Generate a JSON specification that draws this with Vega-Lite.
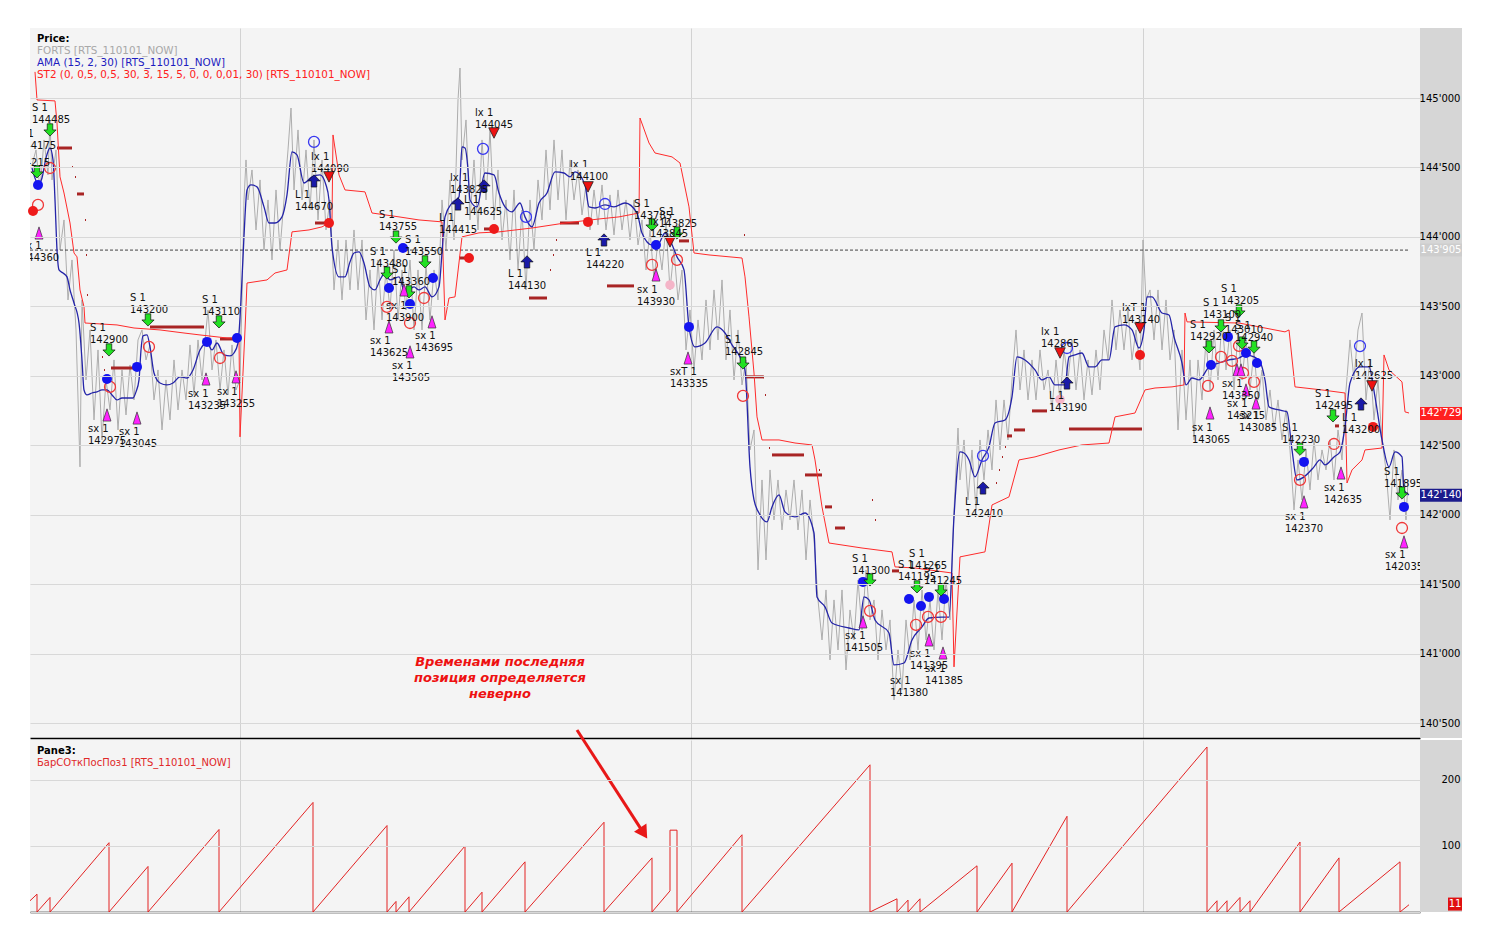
{
"$schema":"https://vega.github.io/schema/vega-lite/v6.json",
"background":"#ffffff",
"padding":{"left":28,"top":28,"right":0,"bottom":0},
"spacing":2,
"bounds":"flush",
"config":{"view":{"fill":"#f4f4f4","stroke":null},"font":"DejaVu Sans","text":{"font":"DejaVu Sans"}},
"datasets":{
"price":[{"b":2,"p":144518},{"b":6,"p":144626},{"b":10,"p":144338},{"b":14,"p":144698},{"b":18,"p":144446},{"b":20,"p":144842},{"b":22,"p":144410},{"b":26,"p":144626},{"b":30,"p":143906},{"b":34,"p":144122},{"b":38,"p":143546},{"b":42,"p":143834},{"b":46,"p":143330},{"b":50,"p":142344},{"b":52,"p":143546},{"b":56,"p":142970},{"b":60,"p":143330},{"b":64,"p":142682},{"b":68,"p":143186},{"b":72,"p":142538},{"b":76,"p":142970},{"b":80,"p":142754},{"b":84,"p":143114},{"b":88,"p":142610},{"b":92,"p":143042},{"b":96,"p":142718},{"b":100,"p":143078},{"b":104,"p":142826},{"b":108,"p":143258},{"b":112,"p":143330},{"b":116,"p":143114},{"b":120,"p":143222},{"b":124,"p":142826},{"b":128,"p":143042},{"b":132,"p":142610},{"b":136,"p":142970},{"b":140,"p":142682},{"b":144,"p":143114},{"b":148,"p":142754},{"b":152,"p":143042},{"b":156,"p":142826},{"b":160,"p":143222},{"b":164,"p":142862},{"b":168,"p":143258},{"b":172,"p":142970},{"b":176,"p":143330},{"b":178,"p":143474},{"b":182,"p":143042},{"b":186,"p":143258},{"b":190,"p":142898},{"b":194,"p":143186},{"b":198,"p":142862},{"b":202,"p":143222},{"b":206,"p":142898},{"b":210,"p":142970},{"b":212,"p":143546},{"b":214,"p":144266},{"b":216,"p":144554},{"b":218,"p":144266},{"b":222,"p":144482},{"b":226,"p":144050},{"b":230,"p":144410},{"b":234,"p":143906},{"b":238,"p":144266},{"b":242,"p":143834},{"b":246,"p":144338},{"b":250,"p":143906},{"b":254,"p":144266},{"b":258,"p":144626},{"b":261,"p":144928},{"b":264,"p":144338},{"b":268,"p":144770},{"b":272,"p":144266},{"b":276,"p":144626},{"b":280,"p":144194},{"b":284,"p":144698},{"b":288,"p":144122},{"b":292,"p":144554},{"b":296,"p":144050},{"b":300,"p":144266},{"b":304,"p":143618},{"b":308,"p":143978},{"b":312,"p":143546},{"b":316,"p":143978},{"b":320,"p":143618},{"b":324,"p":144050},{"b":328,"p":143618},{"b":332,"p":143978},{"b":336,"p":143402},{"b":340,"p":143762},{"b":344,"p":143330},{"b":348,"p":143834},{"b":352,"p":143402},{"b":356,"p":143762},{"b":360,"p":143474},{"b":364,"p":143906},{"b":368,"p":143402},{"b":372,"p":143762},{"b":376,"p":143474},{"b":380,"p":143834},{"b":384,"p":143330},{"b":388,"p":143762},{"b":392,"p":143330},{"b":396,"p":143798},{"b":400,"p":143402},{"b":404,"p":143762},{"b":408,"p":143546},{"b":412,"p":144266},{"b":416,"p":143906},{"b":420,"p":144410},{"b":424,"p":143978},{"b":428,"p":144986},{"b":430,"p":145216},{"b":432,"p":144554},{"b":436,"p":144842},{"b":440,"p":144122},{"b":444,"p":144554},{"b":448,"p":144050},{"b":452,"p":144698},{"b":456,"p":144266},{"b":460,"p":144770},{"b":464,"p":144122},{"b":468,"p":144482},{"b":472,"p":143978},{"b":476,"p":144266},{"b":480,"p":143834},{"b":484,"p":144338},{"b":488,"p":143762},{"b":492,"p":144194},{"b":496,"p":143618},{"b":500,"p":144266},{"b":504,"p":143906},{"b":508,"p":144410},{"b":512,"p":144122},{"b":516,"p":144626},{"b":520,"p":144194},{"b":524,"p":144698},{"b":528,"p":144266},{"b":532,"p":144626},{"b":536,"p":144122},{"b":540,"p":144554},{"b":544,"p":144266},{"b":548,"p":144482},{"b":552,"p":144158},{"b":556,"p":144374},{"b":560,"p":144050},{"b":564,"p":144338},{"b":568,"p":144086},{"b":572,"p":144374},{"b":576,"p":144050},{"b":580,"p":144302},{"b":584,"p":144014},{"b":588,"p":144338},{"b":592,"p":144050},{"b":596,"p":144266},{"b":600,"p":143978},{"b":604,"p":144266},{"b":608,"p":143942},{"b":612,"p":144122},{"b":616,"p":143762},{"b":620,"p":144050},{"b":624,"p":143690},{"b":628,"p":143978},{"b":632,"p":143762},{"b":636,"p":144086},{"b":640,"p":143618},{"b":644,"p":143906},{"b":648,"p":143546},{"b":652,"p":143762},{"b":656,"p":143186},{"b":660,"p":143474},{"b":664,"p":143042},{"b":668,"p":143402},{"b":672,"p":143114},{"b":676,"p":143546},{"b":680,"p":143186},{"b":684,"p":143618},{"b":688,"p":143258},{"b":692,"p":143690},{"b":696,"p":143114},{"b":700,"p":143474},{"b":704,"p":142970},{"b":708,"p":143330},{"b":712,"p":142934},{"b":716,"p":143114},{"b":720,"p":142466},{"b":724,"p":142610},{"b":728,"p":141602},{"b":732,"p":142250},{"b":736,"p":141674},{"b":740,"p":142322},{"b":744,"p":141962},{"b":748,"p":142250},{"b":752,"p":141890},{"b":756,"p":142178},{"b":760,"p":141962},{"b":764,"p":142250},{"b":768,"p":141890},{"b":772,"p":142178},{"b":776,"p":141674},{"b":780,"p":142106},{"b":784,"p":141818},{"b":788,"p":141386},{"b":792,"p":141098},{"b":796,"p":141458},{"b":800,"p":140954},{"b":804,"p":141386},{"b":808,"p":141026},{"b":812,"p":141458},{"b":816,"p":140882},{"b":820,"p":141314},{"b":824,"p":141098},{"b":828,"p":141530},{"b":832,"p":141170},{"b":836,"p":141602},{"b":840,"p":141242},{"b":844,"p":141386},{"b":848,"p":140954},{"b":852,"p":141314},{"b":856,"p":141026},{"b":860,"p":141242},{"b":864,"p":140666},{"b":868,"p":141026},{"b":872,"p":140738},{"b":876,"p":141242},{"b":880,"p":140954},{"b":884,"p":141386},{"b":888,"p":141026},{"b":892,"p":141458},{"b":896,"p":141098},{"b":900,"p":141386},{"b":904,"p":141026},{"b":908,"p":141458},{"b":912,"p":141098},{"b":916,"p":141530},{"b":920,"p":141242},{"b":924,"p":142034},{"b":928,"p":142624},{"b":930,"p":142250},{"b":934,"p":142538},{"b":938,"p":142106},{"b":942,"p":142466},{"b":946,"p":142034},{"b":950,"p":142538},{"b":954,"p":142250},{"b":958,"p":142610},{"b":962,"p":142322},{"b":966,"p":142826},{"b":970,"p":142466},{"b":974,"p":142826},{"b":978,"p":142538},{"b":982,"p":142970},{"b":986,"p":143330},{"b":990,"p":142898},{"b":994,"p":143186},{"b":998,"p":142826},{"b":1002,"p":143114},{"b":1006,"p":142826},{"b":1010,"p":143186},{"b":1014,"p":142898},{"b":1018,"p":143042},{"b":1022,"p":142754},{"b":1026,"p":143114},{"b":1030,"p":142826},{"b":1034,"p":143186},{"b":1038,"p":142970},{"b":1042,"p":143258},{"b":1046,"p":142898},{"b":1050,"p":143186},{"b":1054,"p":142826},{"b":1058,"p":143114},{"b":1062,"p":142862},{"b":1066,"p":143186},{"b":1070,"p":142898},{"b":1074,"p":143330},{"b":1078,"p":143114},{"b":1082,"p":143546},{"b":1086,"p":143186},{"b":1090,"p":143474},{"b":1094,"p":143186},{"b":1098,"p":143474},{"b":1102,"p":143114},{"b":1106,"p":143330},{"b":1110,"p":143042},{"b":1113,"p":143978},{"b":1116,"p":143546},{"b":1120,"p":143618},{"b":1124,"p":143258},{"b":1128,"p":143618},{"b":1132,"p":143186},{"b":1136,"p":143546},{"b":1140,"p":143114},{"b":1144,"p":143330},{"b":1148,"p":142610},{"b":1152,"p":143186},{"b":1156,"p":142682},{"b":1160,"p":143114},{"b":1164,"p":142538},{"b":1168,"p":143114},{"b":1172,"p":142826},{"b":1176,"p":143258},{"b":1180,"p":142898},{"b":1184,"p":143330},{"b":1188,"p":142970},{"b":1192,"p":143402},{"b":1196,"p":143042},{"b":1200,"p":143330},{"b":1204,"p":142898},{"b":1208,"p":143330},{"b":1212,"p":142970},{"b":1216,"p":143258},{"b":1220,"p":142898},{"b":1224,"p":143186},{"b":1228,"p":142826},{"b":1232,"p":143042},{"b":1236,"p":142682},{"b":1240,"p":142898},{"b":1244,"p":142610},{"b":1248,"p":142826},{"b":1252,"p":142538},{"b":1256,"p":142754},{"b":1260,"p":142466},{"b":1264,"p":142034},{"b":1268,"p":142394},{"b":1272,"p":142106},{"b":1276,"p":142466},{"b":1280,"p":142178},{"b":1284,"p":142538},{"b":1288,"p":142250},{"b":1292,"p":142466},{"b":1296,"p":142322},{"b":1300,"p":142538},{"b":1304,"p":142250},{"b":1308,"p":142610},{"b":1312,"p":142394},{"b":1316,"p":142898},{"b":1320,"p":143258},{"b":1324,"p":142970},{"b":1328,"p":143330},{"b":1332,"p":143452},{"b":1336,"p":142826},{"b":1340,"p":143114},{"b":1344,"p":142682},{"b":1348,"p":142970},{"b":1352,"p":142538},{"b":1356,"p":142322},{"b":1360,"p":141962},{"b":1364,"p":142466},{"b":1368,"p":142106},{"b":1372,"p":142322},{"b":1376,"p":141962},{"b":1378,"p":142250}],
"ama":[{"b":2,"p":144496},{"b":5,"p":144424},{"b":8,"p":144374},{"b":12,"p":144424},{"b":16,"p":144568},{"b":20,"p":144640},{"b":23,"p":144554},{"b":25,"p":144266},{"b":27,"p":143906},{"b":29,"p":143762},{"b":33,"p":143740},{"b":37,"p":143712},{"b":40,"p":143618},{"b":44,"p":143524},{"b":49,"p":143380},{"b":52,"p":143114},{"b":54,"p":142898},{"b":57,"p":142862},{"b":62,"p":142876},{"b":67,"p":142884},{"b":72,"p":142898},{"b":77,"p":142898},{"b":82,"p":142862},{"b":87,"p":142826},{"b":92,"p":142840},{"b":97,"p":142840},{"b":103,"p":142840},{"b":106,"p":142884},{"b":109,"p":142970},{"b":111,"p":143186},{"b":113,"p":143287},{"b":117,"p":143294},{"b":120,"p":143208},{"b":124,"p":143020},{"b":130,"p":142948},{"b":137,"p":142934},{"b":143,"p":142948},{"b":150,"p":142992},{"b":157,"p":142984},{"b":163,"p":143042},{"b":170,"p":143186},{"b":177,"p":143236},{"b":182,"p":143186},{"b":187,"p":143236},{"b":194,"p":143150},{"b":200,"p":143143},{"b":204,"p":143164},{"b":208,"p":143236},{"b":211,"p":143546},{"b":214,"p":144007},{"b":217,"p":144338},{"b":221,"p":144374},{"b":227,"p":144360},{"b":234,"p":144216},{"b":239,"p":144100},{"b":245,"p":144100},{"b":252,"p":144144},{"b":257,"p":144302},{"b":262,"p":144612},{"b":267,"p":144590},{"b":274,"p":144388},{"b":282,"p":144432},{"b":290,"p":144446},{"b":296,"p":144374},{"b":299,"p":144266},{"b":302,"p":143928},{"b":309,"p":143712},{"b":315,"p":143712},{"b":320,"p":143820},{"b":324,"p":143884},{"b":329,"p":143892},{"b":334,"p":143812},{"b":340,"p":143640},{"b":345,"p":143618},{"b":350,"p":143690},{"b":355,"p":143740},{"b":360,"p":143690},{"b":369,"p":143712},{"b":375,"p":143596},{"b":384,"p":143640},{"b":389,"p":143618},{"b":395,"p":143640},{"b":402,"p":143568},{"b":409,"p":143640},{"b":412,"p":143884},{"b":415,"p":144144},{"b":422,"p":144244},{"b":429,"p":144288},{"b":432,"p":144648},{"b":435,"p":144640},{"b":438,"p":144482},{"b":440,"p":144266},{"b":447,"p":144216},{"b":455,"p":144460},{"b":464,"p":144446},{"b":469,"p":144316},{"b":475,"p":144216},{"b":482,"p":144180},{"b":490,"p":144244},{"b":495,"p":144144},{"b":502,"p":144072},{"b":509,"p":144244},{"b":517,"p":144316},{"b":525,"p":144468},{"b":534,"p":144460},{"b":540,"p":144432},{"b":545,"p":144468},{"b":555,"p":144374},{"b":559,"p":144216},{"b":565,"p":144208},{"b":575,"p":144230},{"b":584,"p":144216},{"b":595,"p":144244},{"b":607,"p":144172},{"b":612,"p":144028},{"b":622,"p":143942},{"b":629,"p":143956},{"b":635,"p":144028},{"b":640,"p":143978},{"b":647,"p":143856},{"b":654,"p":143762},{"b":659,"p":143352},{"b":665,"p":143208},{"b":675,"p":143236},{"b":687,"p":143352},{"b":695,"p":143308},{"b":702,"p":143222},{"b":710,"p":143136},{"b":715,"p":143042},{"b":720,"p":142344},{"b":724,"p":142106},{"b":729,"p":142012},{"b":737,"p":141948},{"b":742,"p":142056},{"b":749,"p":142142},{"b":755,"p":142020},{"b":765,"p":141984},{"b":775,"p":142012},{"b":784,"p":141868},{"b":787,"p":141408},{"b":795,"p":141336},{"b":802,"p":141220},{"b":819,"p":141184},{"b":829,"p":141170},{"b":834,"p":141408},{"b":839,"p":141386},{"b":845,"p":141242},{"b":859,"p":141148},{"b":864,"p":140918},{"b":874,"p":140932},{"b":882,"p":141098},{"b":892,"p":141192},{"b":899,"p":141256},{"b":912,"p":141263},{"b":919,"p":141263},{"b":924,"p":141984},{"b":930,"p":142452},{"b":934,"p":142444},{"b":939,"p":142394},{"b":945,"p":142272},{"b":952,"p":142394},{"b":959,"p":142488},{"b":965,"p":142660},{"b":975,"p":142682},{"b":982,"p":142848},{"b":987,"p":143136},{"b":995,"p":143114},{"b":1005,"p":143042},{"b":1012,"p":142970},{"b":1019,"p":142992},{"b":1025,"p":142934},{"b":1035,"p":142934},{"b":1039,"p":143136},{"b":1045,"p":143150},{"b":1052,"p":143164},{"b":1059,"p":143064},{"b":1065,"p":143064},{"b":1072,"p":143114},{"b":1079,"p":143114},{"b":1085,"p":143352},{"b":1094,"p":143366},{"b":1102,"p":143330},{"b":1109,"p":143200},{"b":1114,"p":143330},{"b":1117,"p":143568},{"b":1122,"p":143568},{"b":1132,"p":143452},{"b":1139,"p":143438},{"b":1144,"p":143280},{"b":1152,"p":143092},{"b":1156,"p":142934},{"b":1162,"p":142984},{"b":1169,"p":142970},{"b":1179,"p":143064},{"b":1189,"p":143092},{"b":1199,"p":143114},{"b":1209,"p":143128},{"b":1215,"p":143150},{"b":1224,"p":143136},{"b":1230,"p":143100},{"b":1235,"p":142970},{"b":1239,"p":142776},{"b":1249,"p":142754},{"b":1257,"p":142740},{"b":1262,"p":142466},{"b":1267,"p":142250},{"b":1274,"p":142272},{"b":1284,"p":142344},{"b":1290,"p":142394},{"b":1295,"p":142358},{"b":1304,"p":142416},{"b":1310,"p":142452},{"b":1315,"p":142632},{"b":1320,"p":142948},{"b":1330,"p":143064},{"b":1339,"p":143064},{"b":1345,"p":142848},{"b":1352,"p":142538},{"b":1359,"p":142344},{"b":1365,"p":142452},{"b":1372,"p":142416},{"b":1374,"p":142178},{"b":1379,"p":142142}],
"st2":[{"b":5,"p":145188},{"b":7,"p":144986},{"b":25,"p":144979},{"b":27,"p":144820},{"b":30,"p":144432},{"b":34,"p":144316},{"b":40,"p":144100},{"b":44,"p":143884},{"b":47,"p":143856},{"b":50,"p":143618},{"b":54,"p":143496},{"b":55,"p":143380},{"b":87,"p":143366},{"b":104,"p":143344},{"b":130,"p":143330},{"b":154,"p":143308},{"b":170,"p":143294},{"b":197,"p":143272},{"b":209,"p":143272},{"b":210,"p":142560},{"b":215,"p":143330},{"b":217,"p":143668},{"b":237,"p":143690},{"b":245,"p":143740},{"b":257,"p":143762},{"b":262,"p":144036},{"b":279,"p":144050},{"b":292,"p":144072},{"b":299,"p":144100},{"b":302,"p":144122},{"b":303,"p":144734},{"b":309,"p":144446},{"b":315,"p":144338},{"b":335,"p":144324},{"b":342,"p":144172},{"b":369,"p":144144},{"b":389,"p":144122},{"b":412,"p":144108},{"b":415,"p":143402},{"b":419,"p":143560},{"b":425,"p":143568},{"b":432,"p":144000},{"b":449,"p":144029},{"b":469,"p":144036},{"b":502,"p":144064},{"b":535,"p":144100},{"b":569,"p":144129},{"b":589,"p":144144},{"b":609,"p":144172},{"b":610,"p":144856},{"b":619,"p":144676},{"b":625,"p":144604},{"b":642,"p":144576},{"b":650,"p":144532},{"b":659,"p":144216},{"b":664,"p":143884},{"b":679,"p":143870},{"b":712,"p":143848},{"b":715,"p":143712},{"b":719,"p":143424},{"b":724,"p":143020},{"b":727,"p":142704},{"b":732,"p":142538},{"b":749,"p":142538},{"b":765,"p":142516},{"b":782,"p":142502},{"b":785,"p":142394},{"b":792,"p":142056},{"b":799,"p":141796},{"b":832,"p":141760},{"b":862,"p":141732},{"b":865,"p":141624},{"b":885,"p":141616},{"b":922,"p":141580},{"b":924,"p":140904},{"b":930,"p":141696},{"b":955,"p":141732},{"b":962,"p":142070},{"b":979,"p":142128},{"b":989,"p":142394},{"b":1005,"p":142416},{"b":1029,"p":142466},{"b":1052,"p":142502},{"b":1079,"p":142516},{"b":1085,"p":142704},{"b":1105,"p":142732},{"b":1115,"p":142898},{"b":1125,"p":142912},{"b":1142,"p":142920},{"b":1154,"p":142934},{"b":1155,"p":143452},{"b":1157,"p":143388},{"b":1209,"p":143380},{"b":1255,"p":143316},{"b":1259,"p":143330},{"b":1265,"p":142920},{"b":1292,"p":142898},{"b":1315,"p":142876},{"b":1317,"p":142228},{"b":1322,"p":142322},{"b":1332,"p":142394},{"b":1335,"p":142466},{"b":1352,"p":142480},{"b":1354,"p":143150},{"b":1359,"p":143042},{"b":1372,"p":142956},{"b":1375,"p":142740},{"b":1379,"p":142732}],
"stops":[{"b":27,"b2":42,"p":144640},{"b":47,"b2":54,"p":144309},{"b":81,"b2":104,"p":143056},{"b":120,"b2":174,"p":143352},{"b":190,"b2":205,"p":143265},{"b":285,"b2":295,"p":144100},{"b":429,"b2":435,"p":143848},{"b":454,"b2":464,"p":144057},{"b":499,"b2":517,"p":143560},{"b":530,"b2":549,"p":144100},{"b":577,"b2":604,"p":143647},{"b":649,"b2":659,"p":143971},{"b":715,"b2":734,"p":142992},{"b":742,"b2":774,"p":142430},{"b":775,"b2":792,"p":142286},{"b":795,"b2":802,"p":142056},{"b":805,"b2":815,"p":141904},{"b":862,"b2":869,"p":141595},{"b":977,"b2":982,"p":142567},{"b":984,"b2":995,"p":142610},{"b":1002,"b2":1017,"p":142747},{"b":1039,"b2":1112,"p":142617},{"b":1305,"b2":1309,"p":142639}],
"dots":[{"b":42,"b2":43,"p":144504},{"b":45,"b2":46,"p":144432},{"b":55,"b2":56,"p":144122},{"b":56,"b2":57,"p":143870},{"b":57,"b2":58,"p":143582},{"b":72,"b2":73,"p":143136},{"b":74,"b2":75,"p":143042},{"b":520,"b2":521,"p":143762},{"b":523,"b2":524,"p":143870},{"b":526,"b2":527,"p":143978},{"b":714,"b2":715,"p":144014},{"b":735,"b2":736,"p":142862},{"b":739,"b2":740,"p":142480},{"b":789,"b2":790,"p":142322},{"b":842,"b2":843,"p":142106},{"b":845,"b2":846,"p":141962},{"b":966,"b2":967,"p":142228},{"b":969,"b2":970,"p":142322},{"b":972,"b2":973,"p":142416},{"b":975,"b2":976,"p":142488}],
"marks":[
{"k":"S","b":20,"p":144770},{"k":"S","b":7,"p":144468},{"k":"S","b":79,"p":143186},{"k":"S","b":118,"p":143402},{"k":"S","b":189,"p":143388},{"k":"S","b":366,"p":143999},{"k":"S","b":395,"p":143820},{"k":"S","b":357,"p":143740},{"k":"S","b":379,"p":143604},{"k":"S","b":622,"p":144086},{"k":"S","b":647,"p":144028},{"k":"S","b":713,"p":143092},{"k":"S","b":840,"p":141530},{"k":"S","b":887,"p":141480},{"k":"S","b":911,"p":141458},{"k":"S","b":1179,"p":143208},{"k":"S","b":1191,"p":143359},{"k":"S","b":1209,"p":143467},{"k":"S","b":1212,"p":143236},{"k":"S","b":1224,"p":143206},{"k":"S","b":1270,"p":142471},{"k":"S","b":1303,"p":142711},{"k":"S","b":1372,"p":142156},
{"k":"L","b":284,"p":144403},{"k":"L","b":428,"p":144237},{"k":"L","b":454,"p":144367},{"k":"L","b":497,"p":143820},{"k":"L","b":574,"p":143978},{"k":"L","b":953,"p":142192},{"k":"L","b":1037,"p":142948},{"k":"L","b":1331,"p":142797},
{"k":"LX","b":299,"p":144432},{"k":"LX","b":464,"p":144748},{"k":"LX","b":558,"p":144360},{"k":"LX","b":640,"p":143964},{"k":"LX","b":1030,"p":143164},{"k":"LX","b":1110,"p":143344},{"k":"LX","b":1342,"p":142927},
{"k":"SX","b":9,"p":144028},{"k":"SX","b":77,"p":142718},{"k":"SX","b":107,"p":142696},{"k":"SX","b":176,"p":142977},{"k":"SX","b":206,"p":142992},{"k":"SX","b":359,"p":143352},{"k":"SX","b":380,"p":143172},{"k":"SX","b":402,"p":143388},{"k":"SX","b":374,"p":143618},{"k":"SX","b":626,"p":143726},{"k":"SX","b":658,"p":143128},{"k":"SX","b":833,"p":141228},{"k":"SX","b":899,"p":141098},{"k":"SX","b":913,"p":141004},{"k":"SX","b":1180,"p":142732},{"k":"SX","b":1207,"p":143042},{"k":"SX","b":1211,"p":143042},{"k":"SX","b":1216,"p":142898},{"k":"SX","b":1226,"p":142804},{"k":"SX","b":1274,"p":142092},{"k":"SX","b":1311,"p":142300},{"k":"SX","b":1374,"p":141804},
{"k":"BF","b":8,"p":144374},{"k":"BF","b":77,"p":142977},{"k":"BF","b":107,"p":143064},{"k":"BF","b":177,"p":143244},{"k":"BF","b":207,"p":143272},{"k":"BF","b":359,"p":143632},{"k":"BF","b":373,"p":143920},{"k":"BF","b":380,"p":143517},{"k":"BF","b":403,"p":143704},{"k":"BF","b":626,"p":143942},{"k":"BF","b":659,"p":143352},{"k":"BF","b":833,"p":141516},{"k":"BF","b":879,"p":141393},{"k":"BF","b":891,"p":141343},{"k":"BF","b":899,"p":141408},{"k":"BF","b":914,"p":141393},{"k":"BF","b":1181,"p":143078},{"k":"BF","b":1198,"p":143280},{"k":"BF","b":1216,"p":143164},{"k":"BF","b":1227,"p":143092},{"k":"BF","b":1274,"p":142380},{"k":"BF","b":1374,"p":142056},
{"k":"RH","b":20,"p":144496},{"k":"RH","b":8,"p":144230},{"k":"RH","b":80,"p":142920},{"k":"RH","b":119,"p":143208},{"k":"RH","b":190,"p":143128},{"k":"RH","b":357,"p":143496},{"k":"RH","b":380,"p":143380},{"k":"RH","b":394,"p":143560},{"k":"RH","b":622,"p":143798},{"k":"RH","b":647,"p":143834},{"k":"RH","b":713,"p":142855},{"k":"RH","b":840,"p":141307},{"k":"RH","b":886,"p":141206},{"k":"RH","b":898,"p":141264},{"k":"RH","b":911,"p":141264},{"k":"RH","b":1178,"p":142927},{"k":"RH","b":1191,"p":143136},{"k":"RH","b":1202,"p":143107},{"k":"RH","b":1209,"p":143215},{"k":"RH","b":1213,"p":143020},{"k":"RH","b":1224,"p":142956},{"k":"RH","b":1304,"p":142509},{"k":"RH","b":1270,"p":142250},{"k":"RH","b":1372,"p":141904},
{"k":"BH","b":284,"p":144684},{"k":"BH","b":453,"p":144634},{"k":"BH","b":496,"p":144144},{"k":"BH","b":575,"p":144237},{"k":"BH","b":1037,"p":143200},{"k":"BH","b":953,"p":142423},{"k":"BH","b":1330,"p":143214},
{"k":"RF","b":3,"p":144187},{"k":"RF","b":299,"p":144100},{"k":"RF","b":439,"p":143848},{"k":"RF","b":464,"p":144057},{"k":"RF","b":558,"p":144108},{"k":"RF","b":1110,"p":143150},{"k":"RF","b":1343,"p":142632},
{"k":"PK","b":640,"p":143654},{"k":"PK","b":1030,"p":142830}],
"labels":[{"b":2,"p":144936,"t":"S 1\n144485"},{"b":-12,"p":144748,"t":"S 1\n144175"},{"b":-18,"p":144626,"t":"S 1\n144215"},{"b":-9,"p":143942,"t":"sx 1\n144360"},{"b":60,"p":143352,"t":"S 1\n142900"},{"b":100,"p":143568,"t":"S 1\n143200"},{"b":172,"p":143553,"t":"S 1\n143110"},{"b":58,"p":142624,"t":"sx 1\n142975"},{"b":89,"p":142602,"t":"sx 1\n143045"},{"b":158,"p":142876,"t":"sx 1\n143235"},{"b":187,"p":142891,"t":"sx 1\n143255"},{"b":265,"p":144309,"t":"L 1\n144670"},{"b":281,"p":144583,"t":"lx 1\n144090"},{"b":349,"p":144165,"t":"S 1\n143755"},{"b":375,"p":143985,"t":"S 1\n143550"},{"b":340,"p":143899,"t":"S 1\n143480"},{"b":362,"p":143769,"t":"S 1\n143360"},{"b":356,"p":143510,"t":"sx 1\n143900"},{"b":340,"p":143258,"t":"sx 1\n143625"},{"b":362,"p":143078,"t":"sx 1\n143505"},{"b":385,"p":143294,"t":"sx 1\n143695"},{"b":445,"p":144900,"t":"lx 1\n144045"},{"b":420,"p":144432,"t":"lx 1\n143825"},{"b":434,"p":144273,"t":"L 1\n144625"},{"b":409,"p":144144,"t":"L 1\n144415"},{"b":478,"p":143740,"t":"L 1\n144130"},{"b":540,"p":144525,"t":"lx 1\n144100"},{"b":556,"p":143892,"t":"L 1\n144220"},{"b":604,"p":144244,"t":"S 1\n143785"},{"b":629,"p":144187,"t":"S 1\n143825"},{"b":620,"p":144115,"t":"lx 1\n143845"},{"b":607,"p":143625,"t":"sx 1\n143930"},{"b":640,"p":143035,"t":"sxT 1\n143335"},{"b":695,"p":143265,"t":"S 1\n142845"},{"b":822,"p":141688,"t":"S 1\n141300"},{"b":879,"p":141724,"t":"S 1\n141265"},{"b":868,"p":141645,"t":"S 1\n141195"},{"b":894,"p":141616,"t":"S 1\n141245"},{"b":815,"p":141134,"t":"sx 1\n141505"},{"b":880,"p":141004,"t":"sx 1\n141395"},{"b":895,"p":140896,"t":"sx 1\n141385"},{"b":860,"p":140810,"t":"sx 1\n141380"},{"b":935,"p":142099,"t":"L 1\n142410"},{"b":1011,"p":143323,"t":"lx 1\n142865"},{"b":1019,"p":142862,"t":"L 1\n143190"},{"b":1092,"p":143496,"t":"lxT 1\n143140"},{"b":1160,"p":143373,"t":"S 1\n142920"},{"b":1173,"p":143532,"t":"S 1\n143100"},{"b":1191,"p":143632,"t":"S 1\n143205"},{"b":1205,"p":143366,"t":"S 1\n142940"},{"b":1195,"p":143424,"t":"S 1\n143010"},{"b":1162,"p":142632,"t":"sx 1\n143065"},{"b":1192,"p":142948,"t":"sx 1\n143350"},{"b":1197,"p":142804,"t":"sx 1\n143215"},{"b":1209,"p":142718,"t":"sx 1\n143085"},{"b":1252,"p":142634,"t":"S 1\n142230"},{"b":1285,"p":142876,"t":"S 1\n142495"},{"b":1312,"p":142704,"t":"L 1\n143200"},{"b":1325,"p":143092,"t":"lx 1\n142625"},{"b":1255,"p":141991,"t":"sx 1\n142370"},{"b":1294,"p":142199,"t":"sx 1\n142635"},{"b":1354,"p":142315,"t":"S 1\n141895"},{"b":1355,"p":141717,"t":"sx 1\n142035"}],
"legend":[{"b":7,"p":145339,"t":"FORTS [RTS_110101_NOW]","s":"FORTS"},{"b":7,"p":145252,"t":"AMA (15, 2, 30) [RTS_110101_NOW]","s":"AMA"},{"b":7,"p":145166,"t":"ST2 (0, 0,5, 0,5, 30, 3, 15, 5, 0, 0, 0,01, 30) [RTS_110101_NOW]","s":"ST2"}],
"tags":[{"p":143905,"t":"143'905","s":"dash"},{"p":142729,"t":"142'729","s":"st2"},{"p":142140,"t":"142'140","s":"ama"}],
"saw":[{"b":0,"v":17},{"b":7,"v":27},{"b":7,"v":0},{"b":20,"v":22},{"b":20,"v":0},{"b":79,"v":105},{"b":79,"v":0},{"b":118,"v":69},{"b":118,"v":0},{"b":189,"v":125},{"b":189,"v":0},{"b":283,"v":166},{"b":283,"v":0},{"b":357,"v":131},{"b":357,"v":0},{"b":366,"v":16},{"b":366,"v":0},{"b":379,"v":23},{"b":379,"v":0},{"b":435,"v":100},{"b":435,"v":0},{"b":452,"v":30},{"b":452,"v":0},{"b":495,"v":76},{"b":495,"v":0},{"b":574,"v":136},{"b":574,"v":0},{"b":622,"v":82},{"b":622,"v":0},{"b":640,"v":32},{"b":640,"v":124},{"b":647,"v":124},{"b":647,"v":0},{"b":712,"v":117},{"b":712,"v":0},{"b":840,"v":223},{"b":840,"v":0},{"b":867,"v":20},{"b":867,"v":0},{"b":878,"v":18},{"b":878,"v":0},{"b":890,"v":20},{"b":890,"v":0},{"b":947,"v":70},{"b":947,"v":0},{"b":982,"v":74},{"b":982,"v":0},{"b":1037,"v":145},{"b":1037,"v":0},{"b":1177,"v":250},{"b":1177,"v":0},{"b":1187,"v":17},{"b":1187,"v":0},{"b":1197,"v":17},{"b":1197,"v":0},{"b":1210,"v":22},{"b":1210,"v":0},{"b":1220,"v":17},{"b":1220,"v":0},{"b":1270,"v":106},{"b":1270,"v":0},{"b":1309,"v":82},{"b":1309,"v":0},{"b":1370,"v":76},{"b":1370,"v":0},{"b":1379,"v":11}]
},
"vconcat":[
{"width":1390,"height":710,
"layer":[
{"data":{"values":[{}]},"mark":{"type":"rect","color":"#d6d6d6"},"encoding":{"x":{"datum":1390,"type":"quantitative"},"x2":{"datum":1432},"y":{"datum":140392,"type":"quantitative"},"y2":{"datum":145504}}},
{"data":{"name":"price"},"mark":{"type":"line","color":"#adadad","strokeWidth":1},"encoding":{"x":{"field":"b","type":"quantitative","scale":{"domain":[0,1390],"nice":false,"zero":false},"axis":{"orient":"bottom","values":[210,661,1113],"labels":false,"ticks":false,"grid":true,"gridColor":"#d2d2d2","domain":true,"domainColor":"#000000","domainWidth":1.5,"title":null}},"y":{"field":"p","type":"quantitative","scale":{"domain":[140392,145504],"nice":false,"zero":false},"axis":{"orient":"right","values":[140500,141000,141500,142000,142500,143000,143500,144000,144500,145000],"labelExpr":"replace(format(datum.value, ','), ',', \"'\")","ticks":false,"domain":false,"grid":true,"gridColor":"#d8d8d8","labelAlign":"right","labelPadding":40,"labelFontSize":10,"labelFont":"DejaVu Sans","labelColor":"#000000","title":null,"zindex":1}},"order":{"value":null}}},
{"data":{"values":[{}]},"mark":{"type":"rule","color":"#444444","strokeDash":[3,2],"strokeWidth":1},"encoding":{"x":{"datum":0,"type":"quantitative"},"x2":{"datum":1379},"y":{"datum":143905,"type":"quantitative"}}},
{"data":{"name":"stops"},"mark":{"type":"rule","color":"#a82424","strokeWidth":3},"encoding":{"x":{"field":"b","type":"quantitative"},"x2":{"field":"b2"},"y":{"field":"p","type":"quantitative"}}},
{"data":{"name":"dots"},"mark":{"type":"rule","color":"#a82424","strokeWidth":2},"encoding":{"x":{"field":"b","type":"quantitative"},"x2":{"field":"b2"},"y":{"field":"p","type":"quantitative"}}},
{"data":{"name":"st2"},"mark":{"type":"line","color":"#ff2b2b","strokeWidth":1},"encoding":{"x":{"field":"b","type":"quantitative"},"y":{"field":"p","type":"quantitative"},"order":{"value":null}}},
{"data":{"name":"ama"},"mark":{"type":"line","color":"#2424a8","strokeWidth":1.3,"interpolate":"monotone"},"encoding":{"x":{"field":"b","type":"quantitative"},"y":{"field":"p","type":"quantitative"},"order":{"value":null}}},
{"data":{"name":"marks"},"transform":[{"filter":"datum.k=='RH'"}],"mark":{"type":"point","shape":"circle","filled":false,"stroke":"#f03838","strokeWidth":1.3,"size":120,"opacity":1},"encoding":{"x":{"field":"b","type":"quantitative"},"y":{"field":"p","type":"quantitative"}}},
{"data":{"name":"marks"},"transform":[{"filter":"datum.k=='BH'"}],"mark":{"type":"point","shape":"circle","filled":false,"stroke":"#3838f0","strokeWidth":1.3,"size":120,"opacity":1},"encoding":{"x":{"field":"b","type":"quantitative"},"y":{"field":"p","type":"quantitative"}}},
{"data":{"name":"marks"},"transform":[{"filter":"datum.k=='BF'"}],"mark":{"type":"point","shape":"circle","filled":true,"fill":"#1414f0","size":100,"opacity":1},"encoding":{"x":{"field":"b","type":"quantitative"},"y":{"field":"p","type":"quantitative"}}},
{"data":{"name":"marks"},"transform":[{"filter":"datum.k=='RF'"}],"mark":{"type":"point","shape":"circle","filled":true,"fill":"#ee1a1a","size":100,"opacity":1},"encoding":{"x":{"field":"b","type":"quantitative"},"y":{"field":"p","type":"quantitative"}}},
{"data":{"name":"marks"},"transform":[{"filter":"datum.k=='PK'"}],"mark":{"type":"point","shape":"circle","filled":true,"fill":"#f5b5c8","size":90,"opacity":1},"encoding":{"x":{"field":"b","type":"quantitative"},"y":{"field":"p","type":"quantitative"}}},
{"data":{"name":"marks"},"transform":[{"filter":"datum.k=='S'"}],"mark":{"type":"point","shape":"M-0.45,-1L0.45,-1L0.45,0L1,0L0,1L-1,0L-0.45,0Z","filled":true,"fill":"#22e022","stroke":"#111111","strokeWidth":0.7,"size":150,"opacity":1},"encoding":{"x":{"field":"b","type":"quantitative"},"y":{"field":"p","type":"quantitative"}}},
{"data":{"name":"marks"},"transform":[{"filter":"datum.k=='L'"}],"mark":{"type":"point","shape":"M-0.45,1L0.45,1L0.45,0L1,0L0,-1L-1,0L-0.45,0Z","filled":true,"fill":"#1a1aa8","stroke":"#111111","strokeWidth":0.7,"size":150,"opacity":1},"encoding":{"x":{"field":"b","type":"quantitative"},"y":{"field":"p","type":"quantitative"}}},
{"data":{"name":"marks"},"transform":[{"filter":"datum.k=='LX'"}],"mark":{"type":"point","shape":"M-1,-1L1,-1L0,1Z","filled":true,"fill":"#ee1111","stroke":"#222222","strokeWidth":0.8,"size":110,"opacity":1},"encoding":{"x":{"field":"b","type":"quantitative"},"y":{"field":"p","type":"quantitative"}}},
{"data":{"name":"marks"},"transform":[{"filter":"datum.k=='SX'"}],"mark":{"type":"point","shape":"M0,-1L0.65,1L-0.65,1Z","filled":true,"fill":"#ff22ff","stroke":"#333333","strokeWidth":0.7,"size":150,"opacity":1},"encoding":{"x":{"field":"b","type":"quantitative"},"y":{"field":"p","type":"quantitative"}}},
{"data":{"name":"labels"},"mark":{"type":"text","align":"left","baseline":"top","dy":-4,"fontSize":10,"lineBreak":"\n","lineHeight":12,"color":"#111111","clip":true},"encoding":{"x":{"field":"b","type":"quantitative"},"y":{"field":"p","type":"quantitative"},"text":{"field":"t"}}},
{"data":{"values":[{"b":7,"p":145425,"t":"Price:"}]},"mark":{"type":"text","align":"left","baseline":"middle","fontSize":10,"fontWeight":"bold","color":"#000000"},"encoding":{"x":{"field":"b","type":"quantitative"},"y":{"field":"p","type":"quantitative"},"text":{"field":"t"}}},
{"data":{"name":"legend"},"mark":{"type":"text","align":"left","baseline":"middle","fontSize":10.4},"encoding":{"x":{"field":"b","type":"quantitative"},"y":{"field":"p","type":"quantitative"},"text":{"field":"t"},"color":{"field":"s","type":"nominal","scale":{"domain":["FORTS","AMA","ST2"],"range":["#a8a8a8","#1c1cc0","#ff2020"]},"legend":null}}},
{"data":{"values":[{"b":470,"p":140979,"t":"Временами последняя\nпозиция определяется\nневерно"}]},"mark":{"type":"text","align":"center","baseline":"top","fontSize":13,"fontWeight":"bold","fontStyle":"italic","lineBreak":"\n","lineHeight":16,"color":"#ee1111"},"encoding":{"x":{"field":"b","type":"quantitative"},"y":{"field":"p","type":"quantitative"},"text":{"field":"t"}}},
{"data":{"name":"tags"},"mark":{"type":"point","shape":"M-1,-0.31L1,-0.31L1,0.31L-1,0.31Z","filled":true,"size":1764,"opacity":1},"encoding":{"x":{"datum":1411,"type":"quantitative"},"y":{"field":"p","type":"quantitative"},"fill":{"field":"s","type":"nominal","scale":{"domain":["dash","st2","ama"],"range":["#cdcdcd","#ff2020","#1c1c8c"]},"legend":null}}},
{"data":{"name":"tags"},"mark":{"type":"text","align":"center","baseline":"middle","fontSize":10,"color":"#ffffff"},"encoding":{"x":{"datum":1411,"type":"quantitative"},"y":{"field":"p","type":"quantitative"},"text":{"field":"t"}}}
]},
{"width":1390,"height":172,
"layer":[
{"data":{"values":[{}]},"mark":{"type":"rect","color":"#d6d6d6"},"encoding":{"x":{"datum":1390,"type":"quantitative"},"x2":{"datum":1432},"y":{"datum":0,"type":"quantitative"},"y2":{"datum":260.6}}},
{"data":{"name":"saw"},"mark":{"type":"line","color":"#e32222","strokeWidth":1},"encoding":{"x":{"field":"b","type":"quantitative","scale":{"domain":[0,1390],"nice":false,"zero":false},"axis":{"orient":"bottom","values":[210,661,1113],"labels":false,"ticks":false,"grid":true,"gridColor":"#d2d2d2","domain":true,"domainColor":"#000000","domainWidth":1.5,"title":null}},"y":{"field":"v","type":"quantitative","scale":{"domain":[0,260.6],"nice":false,"zero":false},"axis":{"orient":"right","values":[0,100,200],"labelExpr":"datum.value == 0 ? '' : datum.label","ticks":false,"domain":false,"grid":true,"gridColor":"#d8d8d8","labelAlign":"right","labelPadding":40,"labelFontSize":10,"labelFont":"DejaVu Sans","labelColor":"#000000","title":null,"zindex":1}},"order":{"value":null}}},
{"data":{"values":[{"b":7,"v":244,"t":"Pane3:"}]},"mark":{"type":"text","align":"left","baseline":"middle","fontSize":10,"fontWeight":"bold","color":"#000000"},"encoding":{"x":{"field":"b","type":"quantitative"},"y":{"field":"v","type":"quantitative"},"text":{"field":"t"}}},
{"data":{"values":[{"b":7,"v":226,"t":"БарСОткПосПоз1 [RTS_110101_NOW]"}]},"mark":{"type":"text","align":"left","baseline":"middle","fontSize":10,"color":"#e02828"},"encoding":{"x":{"field":"b","type":"quantitative"},"y":{"field":"v","type":"quantitative"},"text":{"field":"t"}}},
{"data":{"values":[{"v":12,"t":"11"}]},"mark":{"type":"point","shape":"M-1,-0.93L1,-0.93L1,0.93L-1,0.93Z","filled":true,"fill":"#e01010","size":196,"opacity":1},"encoding":{"x":{"datum":1425,"type":"quantitative"},"y":{"field":"v","type":"quantitative"}}},
{"data":{"values":[{"v":12,"t":"11"}]},"mark":{"type":"text","align":"center","baseline":"middle","fontSize":10,"color":"#ffffff"},"encoding":{"x":{"datum":1425,"type":"quantitative"},"y":{"field":"v","type":"quantitative"},"text":{"field":"t"}}},
{"data":{"values":[{"b":547,"v":275.8,"b2":613,"v2":121}]},"mark":{"type":"rule","color":"#e81818","strokeWidth":3},"encoding":{"x":{"field":"b","type":"quantitative"},"y":{"field":"v","type":"quantitative"},"x2":{"field":"b2"},"y2":{"field":"v2"}}},
{"data":{"values":[{"b":613.7,"v":119.7}]},"mark":{"type":"point","shape":"triangle-up","filled":true,"fill":"#e81818","size":220,"angle":147,"opacity":1},"encoding":{"x":{"field":"b","type":"quantitative"},"y":{"field":"v","type":"quantitative"}}}
]}
]
}
